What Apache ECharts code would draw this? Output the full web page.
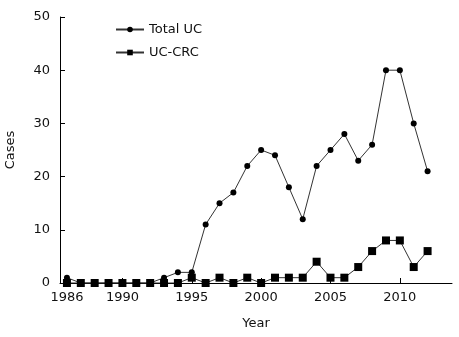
<!DOCTYPE html>
<html>
<head>
<meta charset="utf-8">
<script src="https://cdn.jsdelivr.net/npm/echarts@6/dist/echarts.min.js"></script>
<style>
  html, body { margin: 0; padding: 0; background: #fff; }
  #chart { width: 459px; height: 337px; }
</style>
</head>
<body>
<div id="chart"></div>
<script>
// UC cases per year
const years = [1986, 1987, 1988, 1989, 1990, 1991, 1992, 1993, 1994, 1995, 1996, 1997, 1998, 1999,
  2000, 2001, 2002, 2003, 2004, 2005, 2006, 2007, 2008, 2009, 2010, 2011, 2012];
const totalUC = [1, 0, 0, 0, 0, 0, 0, 1, 2, 2, 11, 15, 17, 22, 25, 24, 18, 12, 22, 25, 28, 23, 26, 40, 40, 30, 21];
const ucCRC = [0, 0, 0, 0, 0, 0, 0, 0, 0, 1, 0, 1, 0, 1, 0, 1, 1, 1, 4, 1, 1, 3, 6, 8, 8, 3, 6];
const xTicks = [1986, 1990, 1995, 2000, 2005, 2010];
const yTicks = [0, 10, 20, 30, 40, 50];

const font = 'DejaVu Sans';
const chart = echarts.init(document.getElementById('chart'));

const pairs = (vals) => years.map((y, i) => [y, vals[i]]);

chart.setOption({
  animation: false,
  textStyle: { fontFamily: font },
  grid: { left: 60, top: 17, right: 7, bottom: 54, outerBoundsMode: 'none' },
  legend: {
    left: 110,
    top: 18,
    orient: 'vertical',
    itemWidth: 28,
    itemHeight: 7,
    itemGap: 10,
    textStyle: { fontFamily: font, fontSize: 13, color: '#111' },
    data: ['Total UC', 'UC-CRC']
  },
  xAxis: {
    type: 'value',
    min: 1985.5,
    max: 2013.76,
    name: 'Year',
    nameLocation: 'middle',
    nameGap: 34,
    nameTextStyle: { fontFamily: font, fontSize: 13, color: '#111' },
    axisLine: { lineStyle: { color: '#000', width: 1 } },
    axisTick: { inside: true, length: 5, customValues: xTicks, lineStyle: { color: '#000' } },
    axisLabel: { customValues: xTicks, fontSize: 13, color: '#111', margin: 8, formatter: (v) => String(v) },
    splitLine: { show: false }
  },
  yAxis: {
    type: 'value',
    min: 0,
    max: 50,
    interval: 10,
    name: 'Cases',
    nameLocation: 'middle',
    nameGap: 43,
    nameTextStyle: { fontFamily: font, fontSize: 13, color: '#111' },
    axisLine: { show: true, lineStyle: { color: '#000', width: 1 } },
    axisTick: { show: true, inside: true, length: 5, lineStyle: { color: '#000' } },
    axisLabel: { fontSize: 13, color: '#111', margin: 10, customValues: yTicks },
    splitLine: { show: false }
  },
  series: [
    {
      name: 'Total UC',
      type: 'line',
      data: pairs(totalUC),
      symbol: 'circle',
      symbolSize: 6,
      itemStyle: { color: '#000' },
      lineStyle: { color: '#333', width: 1 },
      z: 2
    },
    {
      name: 'UC-CRC',
      type: 'line',
      data: pairs(ucCRC),
      symbol: 'rect',
      symbolSize: 8,
      itemStyle: { color: '#000' },
      lineStyle: { color: '#333', width: 1 },
      z: 3
    }
  ]
});
</script>
</body>
</html>
